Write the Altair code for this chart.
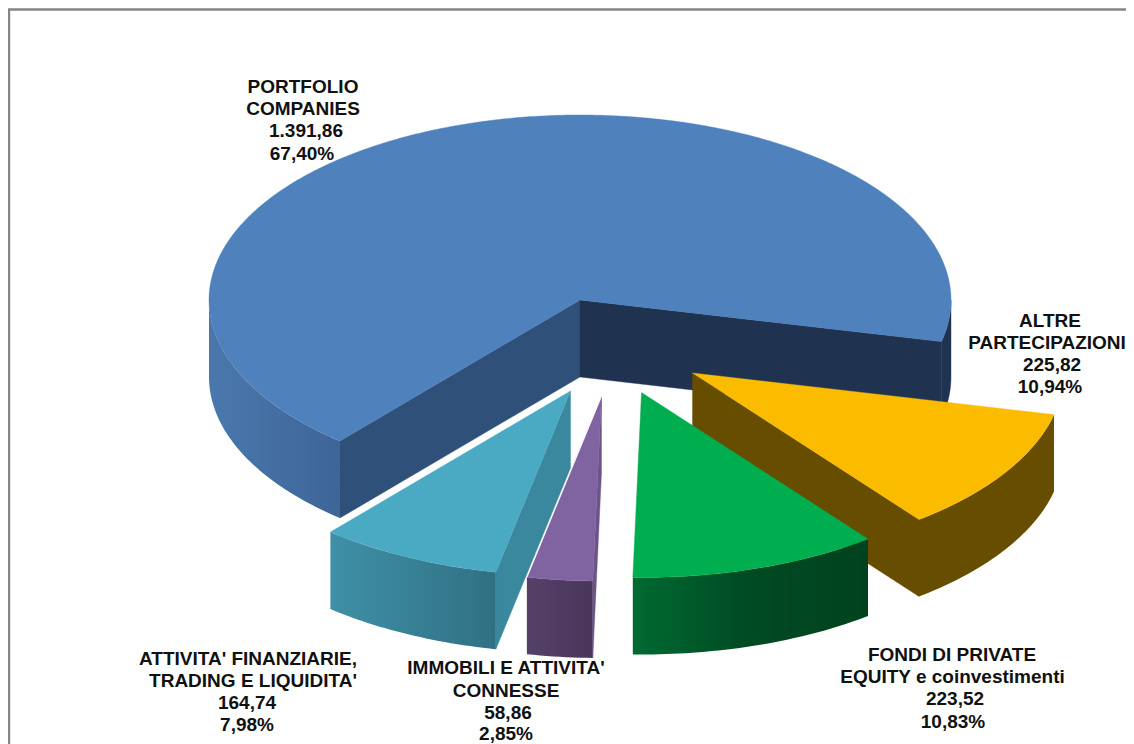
import math
import altair as alt

# ---- data ----
values = [1391.86, 225.82, 223.52, 58.86, 164.74]
value_text = ["1.391,86", "225,82", "223,52", "58,86", "164,74"]
pct_text = ["67,40%", "10,94%", "10,83%", "2,85%", "7,98%"]
label_head = [["PORTFOLIO", "COMPANIES"], ["ALTRE", "PARTECIPAZIONI"],
              ["FONDI DI PRIVATE", "EQUITY e coinvestimenti"],
              ["IMMOBILI E ATTIVITA'", "CONNESSE"],
              ["ATTIVITA' FINANZIARIE,", "TRADING E LIQUIDITA'"]]

# ---- styling and pseudo-3D layout ----
RX, RY, DEPTH = 371, 185, 77
START = 373.0 - 360 * values[0] / sum(values)  # first slice's start angle (130 deg)
apex = [(580, 300), (692.5, 373), (641.5, 392.5), (601.5, 396), (570.5, 391)]
top_col = ["#4f81bd", "#fbbc00", "#00ad4f", "#8064a2", "#4aaac3"]
start_cut = ["#2f5078", None, None, "#6a5488", "#3a889e"]
end_cut = ["#1f3350", "#674d00", None, None, None]
wall_stops = [["#4a78ad", "#3e6598"], ["#674d00", "#674d00"], ["#006a32", "#004a22", "#00421e"],
              ["#554069", "#4a365a"], ["#3e90a7", "#317083"]]
label_x = [[303, 303, 306, 302], [1050, 1047, 1052, 1050], [952, 952.5, 955, 953],
           [506, 506, 508, 506], [248, 253, 247, 247]]
label_y = [[87, 109, 131, 154], [321, 343, 365, 387], [655, 677, 699, 722],
           [668, 691, 713, 733.5], [659, 681, 703, 725]]


def pt(c, a, dz=0):
    r = math.radians(a)
    return [c[0] + RX * math.cos(r), c[1] + RY * math.sin(r) + dz]


def arc(c, a, b, dz=0, step=1.0):
    n = max(2, int(abs(b - a) / step))
    return [pt(c, a + (b - a) * k / n, dz) for k in range(n + 1)]


def poly(ring):
    return {"type": "Feature", "properties": {},
            "geometry": {"type": "Polygon", "coordinates": [ring + [ring[0]]]}}


def line(coords):
    return {"type": "Feature", "properties": {},
            "geometry": {"type": "LineString", "coordinates": coords}}


def geo(feature, **mark):
    return alt.Chart(alt.Data(values=[feature])).mark_geoshape(**mark).project(
        type="identity", scale=1, translate=[-8, -8])


def solid(ring, color):
    return geo(poly(ring), fill=color, stroke=color, strokeWidth=0.4)


def grad(stops):
    n = len(stops) - 1
    return alt.LinearGradient(
        gradient="linear", x1=0, x2=1, y1=0, y2=0,
        stops=[alt.GradientStop(color=s, offset=k / n) for k, s in enumerate(stops)])


layers = [geo(line([[1134, 9.5], [9, 9.5], [9, 744]]), filled=False, stroke="#858585", strokeWidth=2.4)]

a0 = START - 360 if START > 180 else START
a0 = START
for i, v in enumerate(values):
    a1 = a0 + 360 * v / sum(values)
    c = apex[i]
    if i == 0:
        # this slice wraps round the back, so its rim shows in two separate pieces
        layers.append(geo(poly(arc(c, a0, 180) + arc(c, 180, a0, DEPTH)), fill=grad(wall_stops[i])))
        layers.append(solid(arc(c, 360, a1) + arc(c, a1, 360, DEPTH), end_cut[0]))
    else:
        layers.append(geo(poly(arc(c, a0, a1) + arc(c, a1, a0, DEPTH)), fill=grad(wall_stops[i])))
    # visible cut faces
    if start_cut[i]:
        layers.append(solid([list(c), pt(c, a0), pt(c, a0, DEPTH), [c[0], c[1] + DEPTH]], start_cut[i]))
    if end_cut[i]:
        layers.append(solid([list(c), pt(c, a1), pt(c, a1, DEPTH), [c[0], c[1] + DEPTH]], end_cut[i]))
    # top face
    layers.append(solid([list(c)] + arc(c, a0, a1, step=0.5), top_col[i]))
    a0 = a1 - 360 if i == 0 else a1

# the purple slice's thin light edge against the teal wall
purple_end = 373.0 - 360 + 360 * sum(values[1:4]) / sum(values)
layers.append(geo(line([list(apex[3]), pt(apex[3], purple_end)]), filled=False, stroke="#ffffff", strokeWidth=1.1))

rows = []
for i in range(len(values)):
    for j, t in enumerate(label_head[i] + [value_text[i], pct_text[i]]):
        rows.append({"t": t, "lon": label_x[i][j], "lat": label_y[i][j]})

labels = alt.Chart(alt.Data(values=rows)).mark_text(
    font="Liberation Sans", fontWeight="bold", fontSize=19, color="#111111",
    align="center", baseline="middle",
).encode(longitude="lon:Q", latitude="lat:Q", text="t:N").project(
    type="identity", scale=1, translate=[-8, -8])

chart = alt.layer(*layers, labels).properties(
    width=1118, height=736, padding=0, autosize="none", background="white"
).configure_view(stroke=None)

chart.save("out.html", embed_options={"renderer": "svg", "actions": False})
